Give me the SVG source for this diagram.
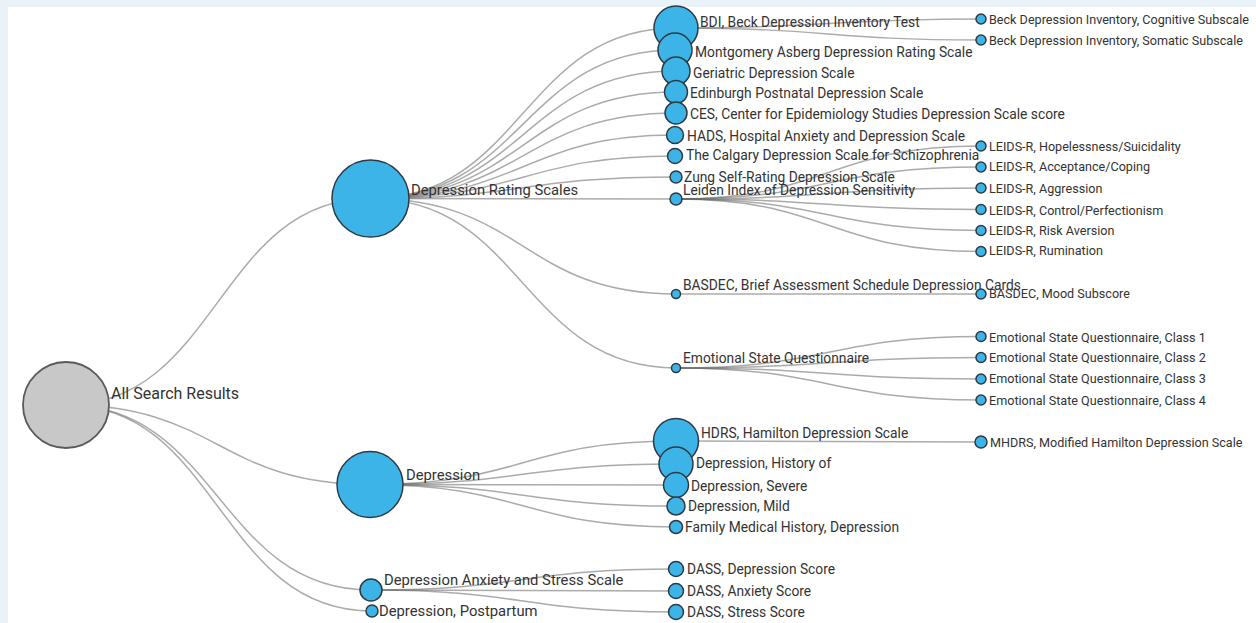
<svg xmlns="http://www.w3.org/2000/svg" width="1256" height="623" viewBox="0 0 1256 623">
<style>
.link{fill:none;stroke:#666;stroke-opacity:0.55;stroke-width:1.5}
.n{fill:#3db4e8;stroke:#2d3a44;stroke-width:1.5}
.root{fill:#c8c8c8;stroke:#5a5a5a;stroke-width:1.8}
text{font-family:Roboto,"Liberation Sans",sans-serif;fill:#333}
.t0{font-size:16px}
.t1{font-size:14.8px}
.t2{font-size:13.8px}
.t3{font-size:12.6px}
</style>
<rect x="0" y="0" width="1256" height="623" fill="#e9f2f9"/>
<rect x="8" y="7" width="1248" height="616" fill="#ffffff"/>
<g id="links">
<path class="link" d="M66,405C218,405 218,198.5 370.5,198.5"/>
<path class="link" d="M66,405C218,405 218,484.5 370,484.5"/>
<path class="link" d="M66,405C218.5,405 218.5,590 371,590"/>
<path class="link" d="M66,405C219,405 219,611 372,611"/>
<path class="link" d="M370.5,198.5C523,198.5 523,28 676,28"/>
<path class="link" d="M370.5,198.5C523,198.5 523,50 675,50"/>
<path class="link" d="M370.5,198.5C523,198.5 523,71 676,71"/>
<path class="link" d="M370.5,198.5C523,198.5 523,92 676,92"/>
<path class="link" d="M370.5,198.5C523,198.5 523,113 676,113"/>
<path class="link" d="M370.5,198.5C523,198.5 523,135 675,135"/>
<path class="link" d="M370.5,198.5C523,198.5 523,156 675,156"/>
<path class="link" d="M370.5,198.5C523,198.5 523,177 676,177"/>
<path class="link" d="M370.5,198.5C523,198.5 523,199 676,199"/>
<path class="link" d="M370.5,198.5C523,198.5 523,294 676,294"/>
<path class="link" d="M370.5,198.5C523,198.5 523,368 676,368"/>
<path class="link" d="M370,484.5C523,484.5 523,441 676,441"/>
<path class="link" d="M370,484.5C523,484.5 523,464 676,464"/>
<path class="link" d="M370,484.5C523,484.5 523,485 676,485"/>
<path class="link" d="M370,484.5C523,484.5 523,506 676,506"/>
<path class="link" d="M370,484.5C523,484.5 523,527 676,527"/>
<path class="link" d="M371,590C523,590 523,569 676,569"/>
<path class="link" d="M371,590C523,590 523,591 676,591"/>
<path class="link" d="M371,590C523,590 523,612 676,612"/>
<path class="link" d="M676,28C828.5,28 828.5,19 981,19"/>
<path class="link" d="M676,28C828.5,28 828.5,40 981,40"/>
<path class="link" d="M676,199C828.5,199 828.5,146 981,146"/>
<path class="link" d="M676,199C828.5,199 828.5,167 981,167"/>
<path class="link" d="M676,199C828.5,199 828.5,188 981,188"/>
<path class="link" d="M676,199C828.5,199 828.5,209.5 981,209.5"/>
<path class="link" d="M676,199C828.5,199 828.5,230.5 981,230.5"/>
<path class="link" d="M676,199C828.5,199 828.5,251.5 981,251.5"/>
<path class="link" d="M676,294C828.5,294 828.5,294 981,294"/>
<path class="link" d="M676,368C828.5,368 828.5,336.5 981,336.5"/>
<path class="link" d="M676,368C828.5,368 828.5,357.5 981,357.5"/>
<path class="link" d="M676,368C828.5,368 828.5,379 981,379"/>
<path class="link" d="M676,368C828.5,368 828.5,400 981,400"/>
<path class="link" d="M676,441C828.5,441 828.5,442 981,442"/>
</g>
<g id="root"><circle class="root" cx="66" cy="405" r="43"/><text class="t0" x="111" y="399">All Search Results</text></g>
<g id="drs"><circle class="n" cx="370.5" cy="198.5" r="38.5"/><text class="t1" x="411" y="195">Depression Rating Scales</text></g>
<g id="depression"><circle class="n" cx="370" cy="484.5" r="33"/><text class="t1" x="406" y="480">Depression</text></g>
<g id="dass"><circle class="n" cx="371" cy="590" r="11"/><text class="t1" x="384" y="585">Depression Anxiety and Stress Scale</text></g>
<g id="postpartum"><circle class="n" cx="372" cy="611" r="6"/><text class="t1" x="379" y="616">Depression, Postpartum</text></g>
<g id="bdi"><circle class="n" cx="676" cy="28" r="22"/><text class="t2" x="700" y="26.5">BDI, Beck Depression Inventory Test</text></g>
<g id="madrs"><circle class="n" cx="675" cy="50" r="17"/><text class="t2" x="695" y="57">Montgomery Asberg Depression Rating Scale</text></g>
<g id="gds"><circle class="n" cx="676" cy="71" r="14"/><text class="t2" x="693" y="77.5">Geriatric Depression Scale</text></g>
<g id="epds"><circle class="n" cx="676" cy="92" r="11.5"/><text class="t2" x="690" y="97.5">Edinburgh Postnatal Depression Scale</text></g>
<g id="ces"><circle class="n" cx="676" cy="113" r="11"/><text class="t2" x="690" y="119">CES, Center for Epidemiology Studies Depression Scale score</text></g>
<g id="hads"><circle class="n" cx="675" cy="135" r="8.5"/><text class="t2" x="687" y="141">HADS, Hospital Anxiety and Depression Scale</text></g>
<g id="calgary"><circle class="n" cx="675" cy="156" r="7.5"/><text class="t2" x="686" y="160">The Calgary Depression Scale for Schizophrenia</text></g>
<g id="zung"><circle class="n" cx="676" cy="177" r="6"/><text class="t2" x="684" y="181.5">Zung Self-Rating Depression Scale</text></g>
<g id="leiden"><circle class="n" cx="676" cy="199" r="6"/><text class="t2" x="683" y="195">Leiden Index of Depression Sensitivity</text></g>
<g id="basdec"><circle class="n" cx="676" cy="294" r="4.5"/><text class="t2" x="683" y="289.5">BASDEC, Brief Assessment Schedule Depression Cards</text></g>
<g id="esq"><circle class="n" cx="676" cy="368" r="4.5"/><text class="t2" x="683" y="363">Emotional State Questionnaire</text></g>
<g id="hdrs"><circle class="n" cx="676" cy="441" r="22.5"/><text class="t2" x="701" y="438">HDRS, Hamilton Depression Scale</text></g>
<g id="history"><circle class="n" cx="676" cy="464" r="17"/><text class="t2" x="696" y="468">Depression, History of</text></g>
<g id="severe"><circle class="n" cx="676" cy="485" r="12.5"/><text class="t2" x="691" y="491">Depression, Severe</text></g>
<g id="mild"><circle class="n" cx="676" cy="506" r="9"/><text class="t2" x="688" y="511">Depression, Mild</text></g>
<g id="family"><circle class="n" cx="676" cy="527" r="6.5"/><text class="t2" x="685" y="532">Family Medical History, Depression</text></g>
<g id="dass-dep"><circle class="n" cx="676" cy="569" r="7.5"/><text class="t2" x="687" y="574">DASS, Depression Score</text></g>
<g id="dass-anx"><circle class="n" cx="676" cy="591" r="7.5"/><text class="t2" x="687" y="596">DASS, Anxiety Score</text></g>
<g id="dass-str"><circle class="n" cx="676" cy="612" r="7.5"/><text class="t2" x="687" y="617">DASS, Stress Score</text></g>
<g id="beck-cog"><circle class="n" cx="981" cy="19" r="5"/><text class="t3" x="989" y="23.5">Beck Depression Inventory, Cognitive Subscale</text></g>
<g id="beck-som"><circle class="n" cx="981" cy="40" r="5"/><text class="t3" x="989" y="44.5">Beck Depression Inventory, Somatic Subscale</text></g>
<g id="leids-hope"><circle class="n" cx="981" cy="146" r="5"/><text class="t3" x="989" y="151">LEIDS-R, Hopelessness/Suicidality</text></g>
<g id="leids-acc"><circle class="n" cx="981" cy="167" r="5"/><text class="t3" x="989" y="171">LEIDS-R, Acceptance/Coping</text></g>
<g id="leids-agg"><circle class="n" cx="981" cy="188" r="5"/><text class="t3" x="989" y="192.5">LEIDS-R, Aggression</text></g>
<g id="leids-ctl"><circle class="n" cx="981" cy="209.5" r="5"/><text class="t3" x="989" y="214.5">LEIDS-R, Control/Perfectionism</text></g>
<g id="leids-risk"><circle class="n" cx="981" cy="230.5" r="5"/><text class="t3" x="989" y="234.5">LEIDS-R, Risk Aversion</text></g>
<g id="leids-rum"><circle class="n" cx="981" cy="251.5" r="5"/><text class="t3" x="989" y="255">LEIDS-R, Rumination</text></g>
<g id="basdec-mood"><circle class="n" cx="981" cy="294" r="5"/><text class="t3" x="989" y="297.5">BASDEC, Mood Subscore</text></g>
<g id="esq1"><circle class="n" cx="981" cy="336.5" r="5"/><text class="t3" x="989" y="341.5">Emotional State Questionnaire, Class 1</text></g>
<g id="esq2"><circle class="n" cx="981" cy="357.5" r="5"/><text class="t3" x="989" y="362">Emotional State Questionnaire, Class 2</text></g>
<g id="esq3"><circle class="n" cx="981" cy="379" r="5"/><text class="t3" x="989" y="382.5">Emotional State Questionnaire, Class 3</text></g>
<g id="esq4"><circle class="n" cx="981" cy="400" r="5"/><text class="t3" x="989" y="404.5">Emotional State Questionnaire, Class 4</text></g>
<g id="mhdrs"><circle class="n" cx="981" cy="442" r="6"/><text class="t3" x="990" y="447">MHDRS, Modified Hamilton Depression Scale</text></g>
</svg>
